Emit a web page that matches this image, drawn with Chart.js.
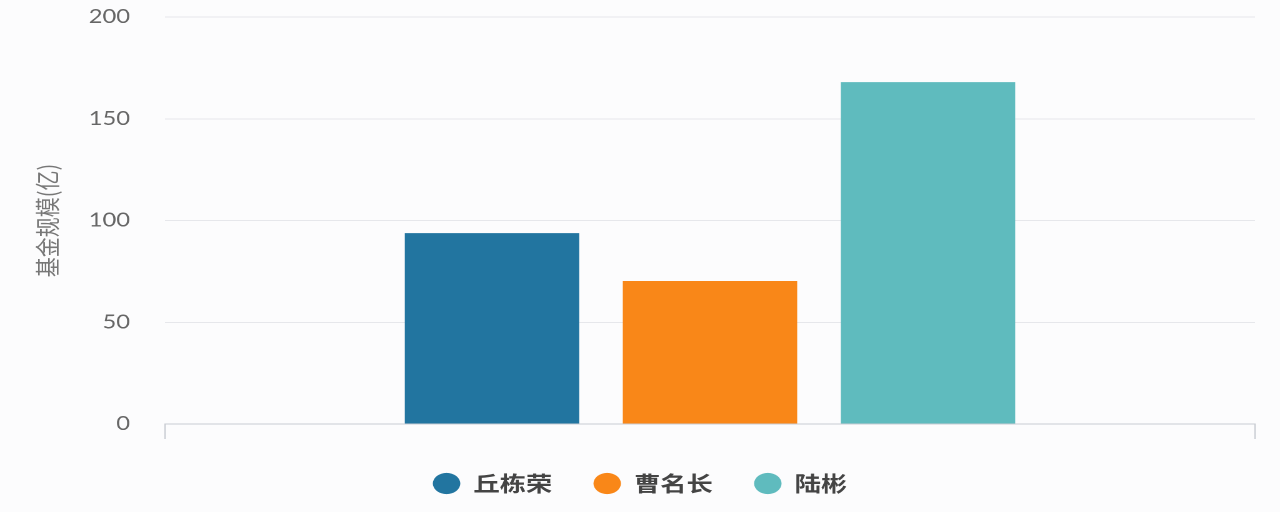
<!DOCTYPE html>
<html>
<head>
<meta charset="utf-8">
<script src="https://cdn.jsdelivr.net/npm/chart.js@4"></script>
<style>
  html, body { margin: 0; padding: 0; background: #fcfcfd; overflow: hidden; }
  #wrap { width: 1024px; height: 512px; transform: scaleX(1.25); transform-origin: 0 0; }
</style>
</head>
<body>
<div id="wrap"><canvas id="c" width="1024" height="512"></canvas></div>
<script>
const managers = ['丘栋荣', '曹名长', '陆彬'];
const fundSize = [93.8, 70.3, 168];
const colors = ['#2275a0', '#f98718', '#5fbbbe'];
const categories = [''];
const yTicks = [0, 50, 100, 150, 200];
const yTitle = '基金规模(亿)';

const datasets = managers.map((name, i) => ({
  label: name,
  data: [fundSize[i]],
  backgroundColor: colors[i],
  borderWidth: 0,
  categoryPercentage: 0.6,
  barPercentage: 0.8
}));

new Chart(document.getElementById('c'), {
  type: 'bar',
  data: { labels: categories, datasets },
  options: {
    responsive: false,
    animation: false,
    devicePixelRatio: 2,
    layout: { padding: { top: 17, right: 0, bottom: 8, left: 0 } },
    plugins: {
      tooltip: { enabled: false },
      legend: {
        position: 'bottom',
        labels: {
          usePointStyle: true,
          pointStyle: 'circle',
          pointStyleWidth: 22,
          boxHeight: 15,
          padding: 33,
          color: '#444',
          font: { family: '"Noto Sans CJK SC", sans-serif', size: 21, weight: 'bold' }
        }
      }
    },
    scales: {
      x: {
        grid: { display: true, drawOnChartArea: false, tickLength: 15, color: '#c9ccd2', offset: true },
        border: { display: true, color: '#c9ccd2' },
        ticks: { display: false },
        afterFit: s => { s.height = 16; s.paddingLeft = 0; s.paddingRight = 0; }
      },
      y: {
        min: 0, max: 200,
        afterBuildTicks: s => { s.ticks = yTicks.map(v => ({ value: v })); },
        grid: { color: '#e6e7eb', drawTicks: false },
        border: { display: false },
        ticks: { padding: 28, color: '#666', font: { family: 'Lato, sans-serif', size: 19 } },
        title: {
          display: true, text: yTitle, color: '#777',
          padding: { top: 26, bottom: 0 },
          font: { family: '"Noto Sans CJK SC", sans-serif', size: 20 }
        },
        afterFit: s => { s.width = 132; s.paddingTop = 0; s.paddingBottom = 0; }
      },
      yRight: {
        position: 'right',
        min: 0, max: 200,
        grid: { display: false },
        border: { display: false },
        ticks: { display: false },
        afterFit: s => { s.width = 20; s.paddingTop = 0; s.paddingBottom = 0; }
      }
    }
  }
});
</script>
</body>
</html>
